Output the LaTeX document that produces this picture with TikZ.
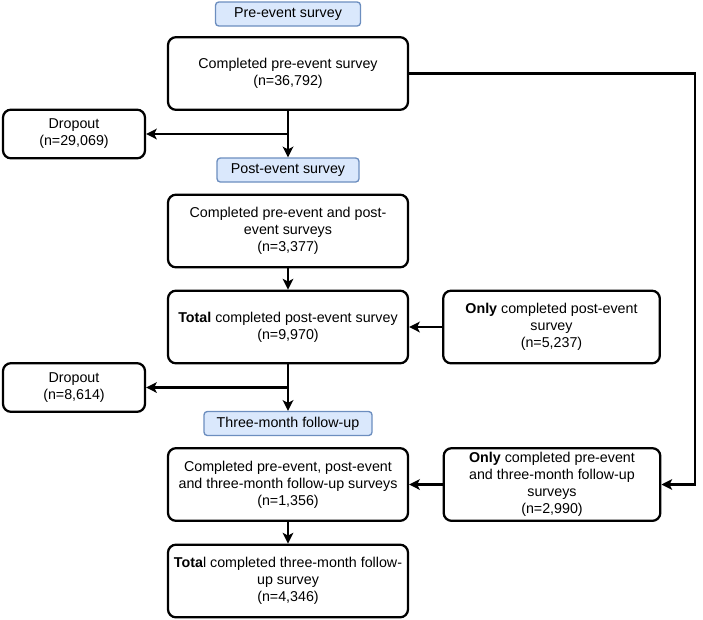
\documentclass[tikz,border=0pt]{standalone}
\usepackage{fontspec}
\setmainfont{Liberation Sans}
\usetikzlibrary{arrows.meta,positioning,calc}
\definecolor{stagefill}{HTML}{DAE8FC}
\definecolor{stageline}{HTML}{6C8EBF}

\begin{document}
\begin{tikzpicture}[x=0.75pt,y=-0.75pt,
    every node/.style={font=\fontsize{10.7pt}{12.8pt}\selectfont},
    box/.style={draw,line width=1.7pt,rounded corners=6pt,align=center,
        minimum width=180pt,minimum height=54.5pt,inner sep=1pt},
    dropbox/.style={box,minimum width=106.5pt,minimum height=36.5pt},
    sidebox/.style={box,minimum width=162.5pt},
    stage/.style={draw=stageline,fill=stagefill,line width=1pt,
        rounded corners=2.5pt,minimum height=18pt,inner sep=1pt},
    arr/.style={line width=1.8pt,-{Stealth[length=8pt,width=8pt,inset=2pt]}}]
    \useasboundingbox (0,0) rectangle (703,619);

    \node[stage,minimum width=108.75pt] (lpre) at (288,14) {Pre-event survey};
    \node[box] (n1) at (288,73.5) {Completed pre-event survey\\(n=36,792)};
    \node[dropbox] (drop1) at (74,134) {Dropout\\(n=29,069)};
    \node[stage,minimum width=106.5pt] (lpost) at (288,170) {Post-event survey};
    \node[box] (n2) at (288,231) {Completed pre-event and post-\\event surveys\\(n=3,377)};
    \node[box] (n3) at (288,327) {\textbf{Total} completed post-event survey\\(n=9,970)};
    \node[sidebox] (only1) at (551.5,327) {\textbf{Only} completed post-event\\survey\\(n=5,237)};
    \node[dropbox] (drop2) at (74,387.5) {Dropout\\(n=8,614)};
    \node[stage,minimum width=126pt] (l3m) at (288,423.5) {Three-month follow-up};
    \node[box] (n4) at (288,484.5) {Completed pre-event, post-event\\and three-month follow-up surveys\\(n=1,356)};
    \node[sidebox] (only2) at (552,484.5) {\textbf{Only} completed pre-event\\and three-month follow-up\\surveys\\(n=2,990)};
    \node[box] (n5) at (288,581) {\textbf{Tota}l completed three-month follow-\\up survey\\(n=4,346)};

    \coordinate (j1) at (n1 |- drop1);
    \coordinate (j2) at (n3 |- drop2);
    \coordinate (r1) at (695,73.5);

    \draw[arr] (n1) -- (lpost);
    \draw[arr] (j1) -- (drop1);
    \draw[arr] (n2) -- (n3);
    \draw[arr] (only1) -- (n3);
    \draw[arr] (n3) -- (l3m);
    \draw[arr] (j2) -- (drop2);
    \draw[arr] (only2) -- (n4);
    \draw[arr] (n4) -- (n5);
    \draw[arr] (n1) -- (r1) |- (only2);
\end{tikzpicture}
\end{document}
